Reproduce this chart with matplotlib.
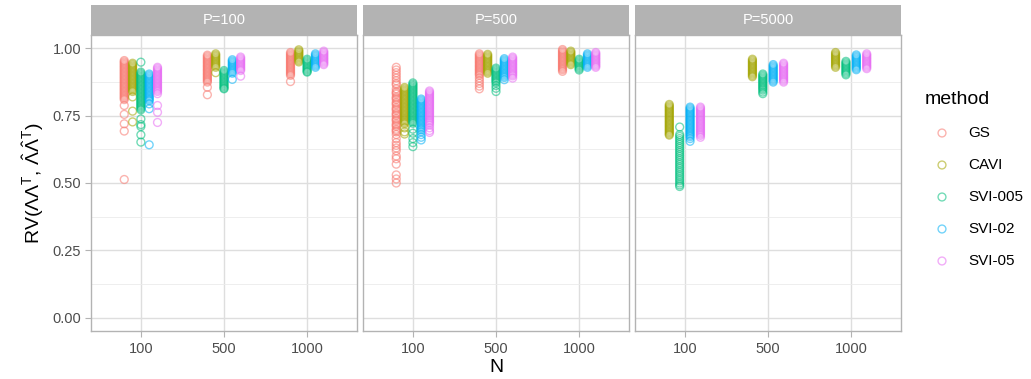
import matplotlib
matplotlib.use("Agg")
import matplotlib.pyplot as plt
from matplotlib.ticker import FixedLocator

plt.rcParams['font.family'] = ['Liberation Sans', 'DejaVu Sans']
plt.rcParams['mathtext.fontset'] = 'custom'
plt.rcParams['mathtext.rm'] = 'Liberation Sans'
plt.rcParams['mathtext.it'] = 'Liberation Sans'
plt.rcParams['mathtext.sf'] = 'Liberation Sans'
plt.rcParams['mathtext.default'] = 'regular'

# ---------------- data ----------------
facets = ['P=100', 'P=500', 'P=5000']
n_labels = ['100', '500', '1000']
methods = ['GS', 'CAVI', 'SVI-005', 'SVI-02', 'SVI-05']
colors = ['#F8766D', '#A3A500', '#00BF7D', '#00B0F6', '#E76BF3']

# P = 100
gs_p100_n100 = [0.955, 0.95, 0.945, 0.94, 0.935, 0.93, 0.925, 0.92, 0.915, 0.91, 0.905, 0.9, 0.895, 0.89,
                0.885, 0.88, 0.875, 0.87, 0.865, 0.86, 0.855, 0.85, 0.845, 0.84, 0.835, 0.83, 0.825, 0.82,
                0.815, 0.81, 0.788, 0.755, 0.72, 0.693, 0.513]
cavi_p100_n100 = [0.945, 0.94, 0.935, 0.93, 0.925, 0.92, 0.915, 0.91, 0.905, 0.9, 0.895, 0.89, 0.885, 0.88,
                  0.875, 0.87, 0.865, 0.86, 0.855, 0.85, 0.845, 0.84, 0.82, 0.767, 0.727]
svi005_p100_n100 = [0.949, 0.912, 0.907, 0.902, 0.897, 0.892, 0.887, 0.882, 0.877, 0.872, 0.867, 0.862, 0.857,
                    0.852, 0.847, 0.842, 0.837, 0.832, 0.827, 0.822, 0.817, 0.812, 0.807, 0.802, 0.797, 0.792,
                    0.787, 0.782, 0.777, 0.772, 0.738, 0.717, 0.71, 0.679, 0.652]
svi02_p100_n100 = [0.905, 0.9, 0.895, 0.89, 0.885, 0.88, 0.875, 0.87, 0.865, 0.86, 0.855, 0.85, 0.845, 0.84,
                   0.835, 0.83, 0.825, 0.82, 0.815, 0.81, 0.805, 0.794, 0.776, 0.642]
svi05_p100_n100 = [0.93, 0.925, 0.92, 0.915, 0.91, 0.905, 0.9, 0.895, 0.89, 0.885, 0.88, 0.875, 0.87, 0.865,
                   0.86, 0.855, 0.85, 0.845, 0.84, 0.832, 0.788, 0.763, 0.725]

gs_p100_n500 = [0.975, 0.97, 0.965, 0.96, 0.955, 0.95, 0.945, 0.94, 0.935, 0.93, 0.925, 0.92, 0.915, 0.91,
                0.905, 0.9, 0.895, 0.89, 0.885, 0.88, 0.875, 0.856, 0.828]
cavi_p100_n500 = [0.98, 0.975, 0.97, 0.965, 0.96, 0.955, 0.95, 0.945, 0.94, 0.935, 0.93, 0.91]
svi005_p100_n500 = [0.918, 0.913, 0.908, 0.903, 0.898, 0.893, 0.888, 0.883, 0.878, 0.873, 0.868, 0.863,
                    0.858, 0.853, 0.85]
svi02_p100_n500 = [0.958, 0.953, 0.948, 0.943, 0.938, 0.933, 0.928, 0.923, 0.918, 0.913, 0.908, 0.885]
svi05_p100_n500 = [0.968, 0.963, 0.958, 0.953, 0.948, 0.943, 0.938, 0.933, 0.928, 0.923, 0.918, 0.897]

gs_p100_n1000 = [0.985, 0.98, 0.975, 0.97, 0.965, 0.96, 0.955, 0.95, 0.945, 0.94, 0.935, 0.93, 0.925, 0.92,
                 0.915, 0.91, 0.905, 0.9, 0.877]
cavi_p100_n1000 = [0.995, 0.99, 0.985, 0.98, 0.975, 0.97, 0.965, 0.96, 0.955, 0.95]
svi005_p100_n1000 = [0.96, 0.955, 0.95, 0.945, 0.94, 0.935, 0.93, 0.925, 0.92, 0.915, 0.912]
svi02_p100_n1000 = [0.98, 0.975, 0.97, 0.965, 0.96, 0.955, 0.95, 0.945, 0.94, 0.935, 0.93]
svi05_p100_n1000 = [0.99, 0.985, 0.98, 0.975, 0.97, 0.965, 0.96, 0.955, 0.95, 0.945, 0.94]

# P = 500
gs_p500_n100 = [0.93, 0.92, 0.91, 0.9, 0.89, 0.88, 0.87, 0.865, 0.85, 0.84, 0.835, 0.83, 0.82, 0.815, 0.81,
                0.8, 0.795, 0.79, 0.78, 0.775, 0.77, 0.76, 0.755, 0.75, 0.74, 0.735, 0.73, 0.72, 0.715, 0.71,
                0.7, 0.695, 0.69, 0.68, 0.665, 0.65, 0.64, 0.63, 0.62, 0.6, 0.59, 0.57, 0.53, 0.515, 0.5]
cavi_p500_n100 = [0.855, 0.85, 0.845, 0.84, 0.835, 0.83, 0.825, 0.82, 0.815, 0.81, 0.805, 0.8, 0.795, 0.79,
                  0.785, 0.78, 0.775, 0.77, 0.765, 0.76, 0.755, 0.75, 0.745, 0.74, 0.735, 0.73, 0.725, 0.72,
                  0.705, 0.69, 0.682]
svi005_p500_n100 = [0.872, 0.867, 0.862, 0.857, 0.852, 0.847, 0.842, 0.837, 0.832, 0.827, 0.822, 0.817, 0.812,
                    0.807, 0.802, 0.797, 0.792, 0.787, 0.782, 0.777, 0.772, 0.767, 0.762, 0.757, 0.752, 0.747,
                    0.742, 0.737, 0.732, 0.727, 0.722, 0.7, 0.685, 0.665, 0.65, 0.635]
svi02_p500_n100 = [0.812, 0.807, 0.802, 0.797, 0.792, 0.787, 0.782, 0.777, 0.772, 0.767, 0.762, 0.757, 0.752,
                   0.747, 0.742, 0.737, 0.732, 0.727, 0.722, 0.717, 0.712, 0.707, 0.702, 0.697, 0.69, 0.68,
                   0.67, 0.66]
svi05_p500_n100 = [0.842, 0.837, 0.832, 0.827, 0.822, 0.817, 0.812, 0.807, 0.802, 0.797, 0.792, 0.787, 0.782,
                   0.777, 0.772, 0.767, 0.762, 0.757, 0.752, 0.747, 0.742, 0.737, 0.732, 0.727, 0.722, 0.715,
                   0.705, 0.695, 0.688]

gs_p500_n500 = [0.98, 0.975, 0.97, 0.965, 0.96, 0.955, 0.95, 0.945, 0.94, 0.935, 0.93, 0.925, 0.92, 0.915,
                0.91, 0.905, 0.9, 0.89, 0.88, 0.87, 0.86, 0.85]
cavi_p500_n500 = [0.978, 0.973, 0.968, 0.963, 0.958, 0.953, 0.948, 0.943, 0.938, 0.933, 0.928, 0.923, 0.918,
                  0.913, 0.908]
svi005_p500_n500 = [0.927, 0.922, 0.917, 0.912, 0.907, 0.902, 0.897, 0.892, 0.887, 0.882, 0.877, 0.872,
                    0.862, 0.852, 0.84]
svi02_p500_n500 = [0.962, 0.957, 0.952, 0.947, 0.942, 0.937, 0.932, 0.927, 0.922, 0.917, 0.912, 0.907,
                   0.902, 0.897, 0.892, 0.884]
svi05_p500_n500 = [0.968, 0.963, 0.958, 0.953, 0.948, 0.943, 0.938, 0.933, 0.928, 0.923, 0.918, 0.913,
                   0.908, 0.903, 0.898, 0.89]

gs_p500_n1000 = [0.996, 0.991, 0.986, 0.981, 0.976, 0.971, 0.966, 0.961, 0.956, 0.951, 0.946, 0.941, 0.936,
                 0.931, 0.926, 0.921, 0.915]
cavi_p500_n1000 = [0.99, 0.985, 0.98, 0.975, 0.97, 0.965, 0.96, 0.955, 0.95, 0.945, 0.94]
svi005_p500_n1000 = [0.96, 0.955, 0.95, 0.945, 0.94, 0.935, 0.93, 0.925, 0.92]
svi02_p500_n1000 = [0.98, 0.975, 0.97, 0.965, 0.96, 0.955, 0.95, 0.945, 0.94, 0.935, 0.93]
svi05_p500_n1000 = [0.985, 0.98, 0.975, 0.97, 0.965, 0.96, 0.955, 0.95, 0.945, 0.94, 0.935, 0.93]

# P = 5000 (no GS)
cavi_p5000_n100 = [0.792, 0.787, 0.782, 0.777, 0.772, 0.767, 0.762, 0.757, 0.752, 0.747, 0.742, 0.737, 0.732,
                   0.727, 0.722, 0.717, 0.712, 0.707, 0.702, 0.697, 0.692, 0.687, 0.682, 0.678]
svi005_p5000_n100 = [0.708, 0.68, 0.673, 0.665, 0.658, 0.65, 0.643, 0.635, 0.628, 0.62, 0.613, 0.605, 0.598,
                     0.59, 0.583, 0.575, 0.568, 0.56, 0.553, 0.545, 0.538, 0.53, 0.523, 0.515, 0.508, 0.5,
                     0.493, 0.487]
svi02_p5000_n100 = [0.782, 0.777, 0.772, 0.767, 0.762, 0.757, 0.752, 0.747, 0.742, 0.737, 0.732, 0.727, 0.722,
                    0.717, 0.712, 0.707, 0.702, 0.697, 0.692, 0.687, 0.682, 0.677, 0.672, 0.665, 0.655]
svi05_p5000_n100 = [0.782, 0.777, 0.772, 0.767, 0.762, 0.757, 0.752, 0.747, 0.742, 0.737, 0.732, 0.727, 0.722,
                    0.717, 0.712, 0.707, 0.702, 0.697, 0.692, 0.687, 0.682, 0.677, 0.67]

cavi_p5000_n500 = [0.96, 0.955, 0.95, 0.945, 0.94, 0.935, 0.93, 0.925, 0.92, 0.915, 0.91, 0.905, 0.9, 0.895]
svi005_p5000_n500 = [0.905, 0.9, 0.895, 0.89, 0.885, 0.88, 0.875, 0.87, 0.865, 0.86, 0.855, 0.85, 0.845,
                     0.838, 0.832]
svi02_p5000_n500 = [0.94, 0.935, 0.93, 0.925, 0.92, 0.915, 0.91, 0.905, 0.9, 0.895, 0.89, 0.885, 0.88, 0.875]
svi05_p5000_n500 = [0.945, 0.94, 0.935, 0.93, 0.925, 0.92, 0.915, 0.91, 0.905, 0.9, 0.895, 0.89, 0.885, 0.88,
                    0.875]

cavi_p5000_n1000 = [0.985, 0.98, 0.975, 0.97, 0.965, 0.96, 0.955, 0.95, 0.945, 0.94, 0.935, 0.93]
svi005_p5000_n1000 = [0.952, 0.947, 0.942, 0.937, 0.932, 0.927, 0.922, 0.917, 0.912, 0.907, 0.902]
svi02_p5000_n1000 = [0.976, 0.971, 0.966, 0.961, 0.956, 0.951, 0.946, 0.941, 0.936, 0.931, 0.926, 0.921]
svi05_p5000_n1000 = [0.98, 0.975, 0.97, 0.965, 0.96, 0.955, 0.95, 0.945, 0.94, 0.935, 0.93, 0.925]

y_ticks = [0.0, 0.25, 0.5, 0.75, 1.0]
y_tick_labels = ['0.00', '0.25', '0.50', '0.75', '1.00']

# data table: facet -> N -> method -> values (None = absent)
table = {
    'P=100': {
        '100': [gs_p100_n100, cavi_p100_n100, svi005_p100_n100, svi02_p100_n100, svi05_p100_n100],
        '500': [gs_p100_n500, cavi_p100_n500, svi005_p100_n500, svi02_p100_n500, svi05_p100_n500],
        '1000': [gs_p100_n1000, cavi_p100_n1000, svi005_p100_n1000, svi02_p100_n1000, svi05_p100_n1000],
    },
    'P=500': {
        '100': [gs_p500_n100, cavi_p500_n100, svi005_p500_n100, svi02_p500_n100, svi05_p500_n100],
        '500': [gs_p500_n500, cavi_p500_n500, svi005_p500_n500, svi02_p500_n500, svi05_p500_n500],
        '1000': [gs_p500_n1000, cavi_p500_n1000, svi005_p500_n1000, svi02_p500_n1000, svi05_p500_n1000],
    },
    'P=5000': {
        '100': [None, cavi_p5000_n100, svi005_p5000_n100, svi02_p5000_n100, svi05_p5000_n100],
        '500': [None, cavi_p5000_n500, svi005_p5000_n500, svi02_p5000_n500, svi05_p5000_n500],
        '1000': [None, cavi_p5000_n1000, svi005_p5000_n1000, svi02_p5000_n1000, svi05_p5000_n1000],
    },
}

# ---------------- figure ----------------
W, H = 1031, 379
fig = plt.figure(figsize=(W / 100, H / 100), dpi=100)
fig.patch.set_facecolor('white')

panel_left = [91, 363, 635]
panel_w = 266
panel_top, panel_bot = 35, 331
strip_top = 5

grid_col = '#DEDEDE'
border_col = '#B3B3B3'
text_col = '#4D4D4D'
dodge_width = 0.5

for fi, facet in enumerate(facets):
    l = panel_left[fi]
    ax = fig.add_axes([l / W, (H - panel_bot) / H, panel_w / W, (panel_bot - panel_top) / H])
    ax.set_xlim(0.4, 3.6)
    ax.set_ylim(-0.05, 1.05)
    ax.set_facecolor('white')
    for s in ax.spines.values():
        s.set_color(border_col)
        s.set_linewidth(1.0)
    ax.yaxis.set_major_locator(FixedLocator(y_ticks))
    ax.yaxis.set_minor_locator(FixedLocator([0.125, 0.375, 0.625, 0.875]))
    ax.set_xticks([1, 2, 3])
    ax.set_xticklabels(n_labels)
    ax.grid(True, which='major', color=grid_col, linewidth=1.0, zorder=0)
    ax.grid(True, which='minor', axis='y', color='#EBEBEB', linewidth=0.6, zorder=0)
    ax.set_axisbelow(True)
    ax.tick_params(axis='x', colors=border_col, labelcolor=text_col, labelsize=10.5, length=4, width=0.8, pad=4)
    ax.tick_params(axis='y', which='minor', length=0)
    if fi == 0:
        ax.set_yticklabels(y_tick_labels)
        ax.tick_params(axis='y', colors=border_col, labelcolor=text_col, labelsize=10.5, length=4, width=0.8, pad=3)
    else:
        ax.tick_params(axis='y', which='both', length=0, labelleft=False)

    for ni, nl in enumerate(n_labels):
        groups = table[facet][nl]
        present = [mi for mi, g in enumerate(groups) if g is not None]
        k = len(present)
        for rank, mi in enumerate(present):
            vals = groups[mi]
            off = (rank - (k - 1) / 2) * dodge_width / k
            xs = [ni + 1 + off] * len(vals)
            ax.scatter(xs, vals, s=32, facecolors='none', edgecolors=colors[mi],
                       linewidths=1.0, alpha=0.55, zorder=3)

    # strip
    sax = fig.add_axes([l / W, (H - panel_top) / H, panel_w / W, (panel_top - strip_top) / H])
    sax.set_facecolor('#B3B3B3')
    sax.set_xticks([])
    sax.set_yticks([])
    for s in sax.spines.values():
        s.set_visible(False)
    sax.text(0.5, 0.5, facet, color='white', fontsize=10.5, ha='center', va='center',
             transform=sax.transAxes)

# axis titles
fig.text(496 / W, 1 - 367 / H, 'N', fontsize=14, ha='center', va='center', color='black')
fig.text(33 / W, 1 - 183 / H, r'RV($\Lambda\Lambda^{T}$, $\hat{\Lambda}\hat{\Lambda}^{T}$)',
         fontsize=14, rotation=90, ha='center', va='center', color='black')

# legend
lax = fig.add_axes([0, 0, 1, 1], facecolor='none')
lax.set_xlim(0, W)
lax.set_ylim(H, 0)
lax.axis('off')
lax.text(925, 100, 'method', fontsize=14, ha='left', va='center', color='black')
leg_y = [133, 165, 197, 229, 261]
for mi, m in enumerate(methods):
    lax.scatter([942], [leg_y[mi]], s=32, facecolors='none', edgecolors=colors[mi],
                linewidths=1.0, alpha=0.55)
    lax.text(968, leg_y[mi], m, fontsize=11, ha='left', va='center', color='black')

fig.savefig('out.png', dpi=100)
